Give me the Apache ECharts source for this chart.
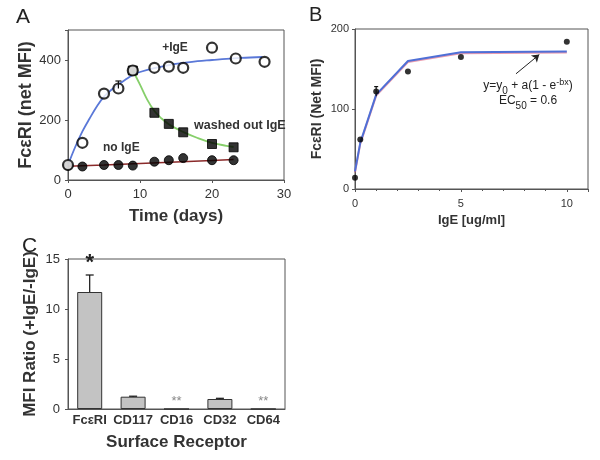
<!DOCTYPE html>
<html><head><meta charset="utf-8">
<script src="https://cdn.jsdelivr.net/npm/echarts@6/dist/echarts.min.js"></script>
<style>html,body{margin:0;padding:0;background:#fff}#c{width:600px;height:460px}</style>
</head><body><div id="c"></div>
<script>
// Panel A
const timeIgE = [0, 2, 5, 7, 9, 12, 14, 16, 20, 23.3, 27.3];
const mfiIgE = [50, 124, 288, 305, 365, 374, 378, 374, 441, 405, 394];
const errIgE = [[7, 305, 330]];
const timeWash = [9, 12, 14, 16, 20, 23];
const mfiWash = [365, 224, 187, 159, 120, 109];
const timeNoIgE = [0, 2, 5, 7, 9, 12, 14, 16, 20, 23];
const mfiNoIgE = [48, 45, 50, 50, 48, 61, 66, 73, 66, 66];
const fitIgEX = [0, 1, 2, 3, 4, 5, 6, 7, 8, 9, 10, 12, 14, 16, 18, 20, 22, 24, 27];
const fitIgEY = [50, 110, 162, 205, 245, 278, 300, 318, 335, 350, 360, 373, 383, 390, 396, 400, 404, 407, 410];
const fitWashX = [9, 10, 11, 12, 13, 14, 15, 16, 18, 20, 22, 23];
const fitWashY = [365, 318, 268, 230, 205, 186, 172, 160, 140, 124, 114, 110];
const fitNoX = [0, 5, 10, 15, 20, 23];
const fitNoY = [46, 50, 55, 60, 65, 68];
// Panel B
const doseX = [0, 0.25, 1, 2.5, 5, 10];
const doseY = [14, 62, 122, 147, 165, 184];
const errDose = [[1, 116, 128]];
const fitDoseX = [0, 0.25, 1, 2.5, 5, 10];
const fitDoseY = [22, 58, 118, 160, 171, 172];
// Panel C
const receptors = ['FcεRI', 'CD117', 'CD16', 'CD32', 'CD64'];
const ratios = [11.7, 1.23, 0, 1.0, 0];
const ratioErrTop = [13.4, 1.28, null, 1.07, null];
const sigMarks = ['*', '', '**', '', '**'];

const F = '"Liberation Sans", Arial, sans-serif';
const zip = (a, b) => a.map((v, i) => [v, b[i]]);

function errSeries(xi, yi, data, cap) {
  return {
    type: 'custom', xAxisIndex: xi, yAxisIndex: yi, data: data, z: 5, silent: true,
    renderItem: function (params, api) {
      const x = api.value(0), lo = api.value(1), hi = api.value(2);
      const p1 = api.coord([x, lo]), p2 = api.coord([x, hi]);
      return {
        type: 'group', children: [
          { type: 'line', shape: { x1: p1[0], y1: p1[1], x2: p2[0], y2: p2[1] }, style: { stroke: '#111', lineWidth: 1.2 } },
          { type: 'line', shape: { x1: p2[0] - cap, y1: p2[1], x2: p2[0] + cap, y2: p2[1] }, style: { stroke: '#111', lineWidth: 1.2 } }
        ]
      };
    }
  };
}

const axisText = (size) => ({ color: '#333', fontFamily: F, fontSize: size });
const nameText = (size) => ({ color: '#333', fontFamily: F, fontSize: size, fontWeight: 'bold' });

const option = {
  animation: false,
  backgroundColor: '#fff',
  grid: [
    { left: 68, top: 30, width: 216, height: 150, show: true, borderColor: '#555', borderWidth: 1 },
    { left: 355, top: 29, width: 233, height: 160, show: true, borderColor: '#555', borderWidth: 1 },
    { left: 68, top: 259, width: 217, height: 150, show: true, borderColor: '#555', borderWidth: 1 }
  ],
  xAxis: [
    { gridIndex: 0, type: 'value', min: 0, max: 30, interval: 10,
      axisLine: { lineStyle: { color: '#555' } }, axisTick: { show: true, length: 3, lineStyle: { color: '#555' } },
      splitLine: { show: false }, axisLabel: Object.assign(axisText(13), { margin: 8 }),
      name: 'Time (days)', nameLocation: 'middle', nameGap: 28, nameTextStyle: nameText(17) },
    { gridIndex: 1, type: 'value', min: 0, max: 11, interval: 5,
      axisLine: { lineStyle: { color: '#555' } }, axisTick: { show: true, length: 3, lineStyle: { color: '#555' } },
      minorTick: { show: true, splitNumber: 5, length: 2, lineStyle: { color: '#555' } },
      splitLine: { show: false }, axisLabel: Object.assign(axisText(11), { margin: 9, formatter: v => (v === 0 || v === 5 || v === 10) ? String(v) : '' }),
      name: 'IgE [ug/ml]', nameLocation: 'middle', nameGap: 25, nameTextStyle: nameText(13) },
    { gridIndex: 2, type: 'category', data: receptors,
      axisLine: { lineStyle: { color: '#555' } }, axisTick: { show: false },
      axisLabel: Object.assign(axisText(13), { margin: 5, fontWeight: 'bold', interval: 0 }),
      name: 'Surface Receptor', nameLocation: 'middle', nameGap: 25, nameTextStyle: nameText(17) }
  ],
  yAxis: [
    { gridIndex: 0, type: 'value', min: 0, max: 500, interval: 200,
      axisLine: { show: true, lineStyle: { color: '#555' } }, axisTick: { show: true, length: 3, lineStyle: { color: '#555' } },
      splitLine: { show: false }, axisLabel: Object.assign(axisText(13), { margin: 7, formatter: v => v <= 400 ? String(v) : '' }),
      name: 'FcεRI (net MFI)', nameLocation: 'middle', nameGap: 33, nameTextStyle: nameText(18) },
    { gridIndex: 1, type: 'value', min: 0, max: 200, interval: 100,
      axisLine: { show: true, lineStyle: { color: '#555' } }, axisTick: { show: true, length: 3, lineStyle: { color: '#555' } },
      splitLine: { show: false }, axisLabel: Object.assign(axisText(11), { margin: 6 }),
      name: 'FcεRI (Net MFI)', nameLocation: 'middle', nameGap: 31, nameTextStyle: nameText(14) },
    { gridIndex: 2, type: 'value', min: 0, max: 15, interval: 5,
      axisLine: { show: true, lineStyle: { color: '#555' } }, axisTick: { show: true, length: 3, lineStyle: { color: '#555' } },
      splitLine: { show: false }, axisLabel: Object.assign(axisText(13), { margin: 8 }),
      name: 'MFI Ratio (+IgE/-IgE)', nameLocation: 'middle', nameGap: 29, nameTextStyle: nameText(17) }
  ],
  series: [
    // Panel A fits
    { type: 'line', xAxisIndex: 0, yAxisIndex: 0, data: zip(fitNoX, fitNoY), smooth: false, symbol: 'none',
      lineStyle: { color: '#8a2a2a', width: 1.5 }, z: 2 },
    { type: 'line', xAxisIndex: 0, yAxisIndex: 0, data: zip(fitWashX, fitWashY), smooth: 0.4, symbol: 'none',
      lineStyle: { color: '#86cf6a', width: 1.8 }, z: 2 },
    { type: 'line', xAxisIndex: 0, yAxisIndex: 0, data: zip(fitIgEX, fitIgEY), smooth: 0.4, symbol: 'none',
      lineStyle: { color: '#5a78d8', width: 1.8 }, z: 2 },
    // Panel A points
    { type: 'scatter', xAxisIndex: 0, yAxisIndex: 0, data: zip(timeNoIgE, mfiNoIgE), symbol: 'circle', symbolSize: 9,
      itemStyle: { color: '#000', borderColor: '#000', borderWidth: 1 }, z: 3 },
    { type: 'scatter', xAxisIndex: 0, yAxisIndex: 0, data: zip(timeWash, mfiWash), symbol: 'rect', symbolSize: 9,
      itemStyle: { color: '#000', borderColor: '#000', borderWidth: 1 }, z: 4 },
    { type: 'scatter', xAxisIndex: 0, yAxisIndex: 0, data: zip(timeIgE, mfiIgE), symbol: 'circle', symbolSize: 10,
      itemStyle: { color: '#fff', borderColor: '#000', borderWidth: 2.2 }, z: 4 },
    errSeries(0, 0, errIgE, 3),
    // Panel B
    { type: 'line', xAxisIndex: 1, yAxisIndex: 1, data: zip(fitDoseX, fitDoseY), symbol: 'none',
      lineStyle: { color: '#4f6fd6', width: 2, shadowColor: 'rgba(220,90,120,0.6)', shadowOffsetY: 1, shadowBlur: 0 }, z: 2,
      markLine: { silent: true, symbol: ['none', 'arrow'], symbolSize: 7, label: { show: false },
        lineStyle: { color: '#222', width: 1, type: 'solid' },
        data: [[{ coord: [7.6, 144] }, { coord: [8.7, 168] }]] } },
    { type: 'scatter', xAxisIndex: 1, yAxisIndex: 1, data: zip(doseX, doseY), symbol: 'circle', symbolSize: 6,
      itemStyle: { color: '#000' }, z: 4 },
    errSeries(1, 1, errDose, 2),
    // Panel C
    { type: 'bar', xAxisIndex: 2, yAxisIndex: 2, data: ratios, barWidth: 25,
      itemStyle: { color: '#c3c3c3', borderColor: '#333', borderWidth: 1 }, z: 2 },
    errSeries(2, 2, ratioErrTop.map((v, i) => v === null ? null : [i, ratios[i], v]).filter(d => d), 4),
    { type: 'custom', xAxisIndex: 2, yAxisIndex: 2, data: sigMarks.map((m, i) => [i, ratioErrTop[i] === null ? ratios[i] : ratioErrTop[i]]), z: 6, silent: true,
      renderItem: function (params, api) {
        const i = api.value(0);
        const m = sigMarks[i];
        const p = api.coord([i, api.value(1)]);
        const big = m === '*';
        return { type: 'text', x: p[0], y: p[1] - 1, style: { text: m, fontFamily: F,
          fontSize: big ? 22 : 13, fontWeight: big ? 'bold' : 'normal', fill: big ? '#222' : '#888',
          align: 'center', verticalAlign: 'bottom' } };
      } }
  ],
  graphic: [
    { type: 'text', left: 16, top: 7, style: { text: 'A', fontFamily: F, fontSize: 21, fill: '#222' } },
    { type: 'text', left: 309, top: 5, style: { text: 'B', fontFamily: F, fontSize: 20, fill: '#222' } },
    { type: 'text', left: 22, top: 236, style: { text: 'C', fontFamily: F, fontSize: 21, fill: '#222' } },
    { type: 'text', x: 175, y: 48, style: { text: '+IgE', fontFamily: F, fontSize: 12, fontWeight: 'bold', fill: '#333', align: 'center', verticalAlign: 'middle' } },
    { type: 'text', x: 194, y: 126, style: { text: 'washed out IgE', fontFamily: F, fontSize: 12.5, fontWeight: 'bold', fill: '#333', align: 'left', verticalAlign: 'middle' } },
    { type: 'text', x: 103, y: 148, style: { text: 'no IgE', fontFamily: F, fontSize: 12, fontWeight: 'bold', fill: '#333', align: 'left', verticalAlign: 'middle' } },
    { type: 'text', x: 528, y: 93, style: {
      text: '{a|y=y}{s|0}{a| + a(1 - e}{p|-bx}{a|)}\n{a|EC}{s|50}{a| = 0.6}',
      align: 'center', verticalAlign: 'middle', fill: '#222',
      rich: {
        a: { fontFamily: F, fontSize: 12, lineHeight: 15, fill: '#222' },
        s: { fontFamily: F, fontSize: 10, lineHeight: 15, verticalAlign: 'bottom', fill: '#222', padding: [0, 0, -3, 0] },
        p: { fontFamily: F, fontSize: 9, lineHeight: 15, verticalAlign: 'top', fill: '#222' }
      } } }
  ]
};
const chart = echarts.init(document.getElementById('c'));
chart.setOption(option);
</script>
</body></html>
